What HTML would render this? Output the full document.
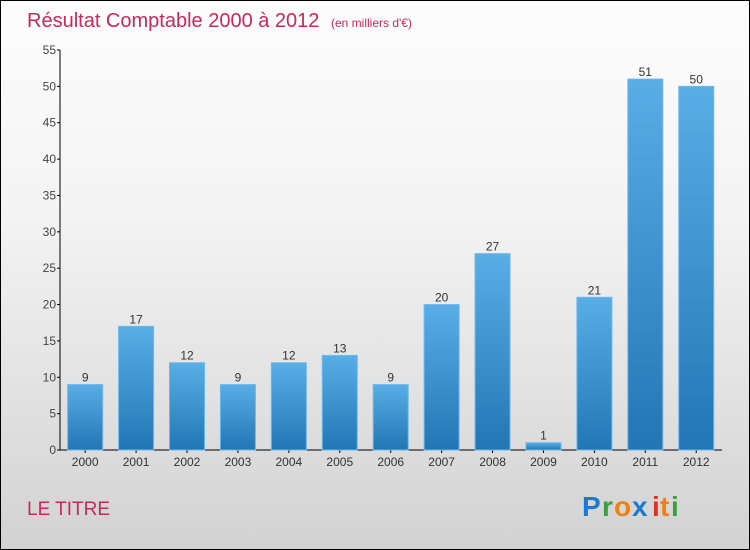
<!DOCTYPE html>
<html><head><meta charset="utf-8"><style>
body{margin:0}
#c{width:750px;height:550px;position:relative;box-sizing:border-box;border:1px solid #000;background:linear-gradient(#fdfdfd,#f3f3f3 40%,#d2d2d2);font-family:"Liberation Sans",sans-serif;overflow:hidden}
</style></head><body>
<div id="c">
<svg id="s" width="750" height="550" style="position:absolute;left:-1px;top:-1px">
<defs><linearGradient id="g" x1="0" y1="0" x2="0" y2="1"><stop offset="0" stop-color="#5aaee6"/><stop offset="1" stop-color="#2276b4"/></linearGradient></defs>
<text x="27" y="27" font-size="20" fill="#c8285a">Résultat Comptable 2000 à 2012 <tspan font-size="12" dx="6">(en milliers d'€)</tspan></text>
<text x="27" y="515" font-size="19" fill="#c8285a">LE TITRE</text>
<g font-size="28" font-weight="bold" font-family="'Liberation Sans',sans-serif">
<text x="582" y="516" fill="#1a7ad0">P</text><text x="602" y="516" fill="#3aa040">r</text><text x="614" y="516" fill="#f08010">o</text><text x="632" y="516" fill="#1a7ad0">x</text><text x="652" y="516" fill="#e03020">i</text><text x="660" y="516" fill="#f08010">t</text><text x="671" y="516" fill="#3aa040">i</text>
</g>
</svg>
</div>
<script>
const years=["2000","2001","2002","2003","2004","2005","2006","2007","2008","2009","2010","2011","2012"];
const values=[9,17,12,9,12,13,9,20,27,1,21,51,50];
const yTicks=[0,5,10,15,20,25,30,35,40,45,50,55];
const NS="http://www.w3.org/2000/svg",s=document.getElementById('s');
const y0=450,yTop=50,yMax=55,x0=60,x1=722;
const y=v=>y0-(v/yMax)*(y0-yTop);
const step=(x1-x0)/years.length;
const xc=i=>x0+step*(i+0.5)-0.3;
function mk(t,a,p){const e=document.createElementNS(NS,t);for(const k in a)e.setAttribute(k,a[k]);(p||s).appendChild(e);return e;}
const ax=mk('g',{});


mk('line',{x1:x0,y1:yTop,x2:x0,y2:y0,stroke:'#000'},ax);
mk('line',{x1:x0,y1:y0,x2:x1,y2:y0,stroke:'#000'},ax);
yTicks.forEach(v=>{
 mk('line',{x1:x0-3,y1:y(v),x2:x0,y2:y(v),stroke:'#000'},ax);
 const t=mk('text',{x:x0-4,y:y(v)+4,'font-size':12,fill:'#444','text-anchor':'end'},ax);t.textContent=v;
 
 
});
values.forEach((v,i)=>{
 const r=mk('rect',{x:xc(i)-17.5,y:y(v),width:35,height:y0-y(v),fill:'url(#g)',stroke:'#6cb8ee','stroke-width':1});
 
 
 const l=mk('text',{x:xc(i),y:y(v)-3,'font-size':12,fill:'#333','text-anchor':'middle'});l.textContent=v;
 
 
 mk('line',{x1:xc(i),y1:y0,x2:xc(i),y2:y0+3,stroke:'#000'},ax);
 const t=mk('text',{x:xc(i),y:y0+16,'font-size':12,fill:'#333','text-anchor':'middle'},ax);t.textContent=years[i];
 
 
});
</script>
</body></html>
